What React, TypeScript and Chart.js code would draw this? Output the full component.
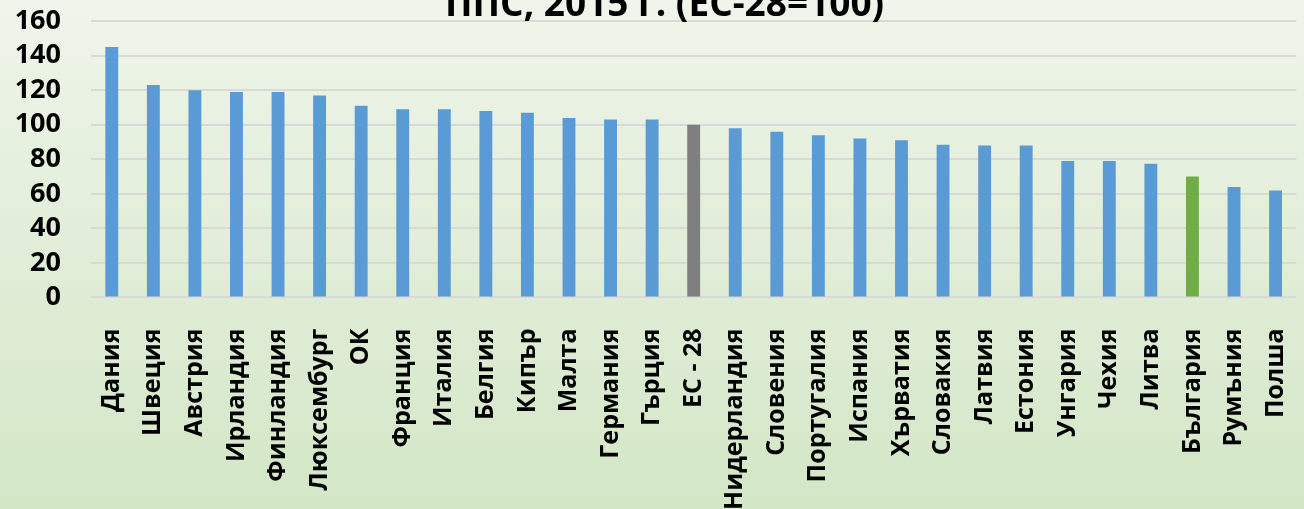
import React, { useEffect, useRef } from "react";
import { Chart, registerables } from "chart.js";

Chart.register(...registerables);

const categories = [
  "Дания", "Швеция", "Австрия", "Ирландия", "Финландия", "Люксембург", "ОК",
  "Франция", "Италия", "Белгия", "Кипър", "Малта", "Германия", "Гърция",
  "ЕС - 28", "Нидерландия", "Словения", "Португалия", "Испания", "Хърватия",
  "Словакия", "Латвия", "Естония", "Унгария", "Чехия", "Литва", "България",
  "Румъния", "Полша",
];

const values = [
  145, 123, 120, 119, 119, 117, 111, 109, 109, 108, 107, 104, 103, 103,
  100, 98, 96, 94, 92, 91, 88.5, 88, 88, 79, 79, 77.5, 70, 64, 62,
];

const titleText = "ППС, 2015 г. (ЕС-28=100)";
const yMin = 0;
const yMax = 160;
const yStep = 20;

const BLUE = "#5B9BD5";
const GRAY = "#7F7F7F";
const GREEN = "#70AD47";

const barColors = categories.map((c) =>
  c === "ЕС - 28" ? GRAY : c === "България" ? GREEN : BLUE
);

export default function App() {
  const ref = useRef<HTMLCanvasElement | null>(null);

  useEffect(() => {
    if (!ref.current) return;
    const chart = new Chart(ref.current, {
      type: "bar",
      data: {
        labels: categories,
        datasets: [
          {
            data: values,
            backgroundColor: barColors,
            borderWidth: 0,
            barPercentage: 0.31,
            categoryPercentage: 1,
            yAxisID: "y",
          },
        ],
      },
      options: {
        animation: false,
        responsive: false,
        maintainAspectRatio: false,
        layout: { padding: { left: 0, right: 0, top: 0, bottom: 0 } },
        plugins: {
          legend: { display: false },
          tooltip: { enabled: false },
          title: {
            display: true,
            text: titleText,
            color: "#000",
            font: { family: "Open Sans", size: 37, weight: "bold", lineHeight: 1.0 },
            padding: { top: 0, bottom: -3 },
          },
        },
        scales: {
          x: {
            grid: { display: false },
            border: { display: false },
            ticks: {
              color: "#000",
              font: { family: "Open Sans", size: 25, weight: "bold" },
              maxRotation: 90,
              minRotation: 90,
              autoSkip: false,
              padding: 23,
            },
          },
          y: {
            min: yMin,
            max: yMax,
            border: { display: false },
            grid: { color: "#D9D9D9", lineWidth: 2, drawTicks: false },
            afterFit: (scale: any) => {
              scale.width = 91;
            },
            ticks: {
              stepSize: yStep,
              autoSkip: false,
              color: "#000",
              font: { family: "Open Sans", size: 27, weight: "bold" },
              padding: 30,
            },
          },
          yRight: {
            type: "linear",
            position: "right",
            display: true,
            grid: { display: false, drawTicks: false },
            border: { display: false },
            ticks: { display: false },
            afterFit: (scale: any) => {
              scale.width = 25;
            },
          },
        },
      },
    });
    return () => chart.destroy();
  }, []);

  return (
    <div
      style={{
        position: "fixed",
        left: 0,
        top: 0,
        width: 1304,
        height: 509,
        overflow: "hidden",
        background: "linear-gradient(to bottom, #EFF5EA 0%, #D3E6C6 100%)",
      }}
    >
      <canvas
        ref={ref}
        width={1329}
        height={558}
        style={{ position: "absolute", left: 0, top: -25, width: 1329, height: 558 }}
      />
    </div>
  );
}
